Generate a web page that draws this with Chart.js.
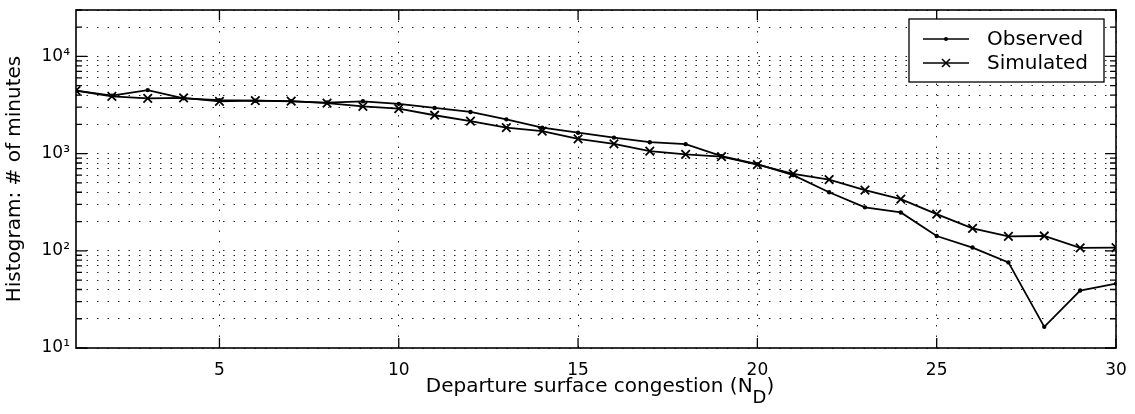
<!DOCTYPE html>
<html lang="en">
<head>
<meta charset="UTF-8">
<title>Departure surface congestion histogram</title>
<script src="https://cdn.jsdelivr.net/npm/chart.js"></script>
<style>
  body { margin: 0; background: #fff; }
  #wrap { width: 1135px; height: 414px; }
</style>
</head>
<body>
<div id="wrap"><canvas id="histChart" width="1135" height="414"></canvas></div>
<script>
  // values
  const congestion = [1, 2, 3, 4, 5, 6, 7, 8, 9, 10, 11, 12, 13, 14, 15, 16, 17, 18, 19, 20, 21, 22, 23, 24, 25, 26, 27, 28, 29, 30];
  const observed = [4450, 3950, 4500, 3700, 3550, 3500, 3450, 3350, 3450, 3250, 2950, 2680, 2250, 1850, 1640, 1460, 1310, 1250, 940, 780, 600, 400, 280, 248, 142, 108, 76, 16.5, 39, 46];
  const simulated = [4450, 3880, 3700, 3750, 3450, 3500, 3470, 3310, 3060, 2900, 2480, 2160, 1850, 1700, 1420, 1260, 1060, 980, 930, 770, 620, 540, 420, 340, 238, 170, 141, 142, 107, 108];
  const seriesNames = ['Observed', 'Simulated'];
  const xTicks = [5, 10, 15, 20, 25, 30];
  const yDecades = [10, 100, 1000, 10000];
  const yMin = 10, yMax = 30000;
  const xTitle = ['Departure surface congestion (N', 'D', ')'];
  const yTitle = 'Histogram: # of minutes';

  const FONT = "'DejaVu Sans', Arial, sans-serif";
  const sup = { '1': '¹', '2': '²', '3': '³', '4': '⁴' };

  // every 1..9 x decade inside the range gets a dotted line
  const yGrid = [];
  yDecades.forEach(d => {
    for (let m = 1; m <= 9; m++) {
      if (m * d <= yMax) yGrid.push(m * d);
    }
  });
  const isDecade = v => yDecades.includes(v);

  const framePlugin = {
    id: 'frame',
    afterDraw(chart) {
      const { ctx, chartArea: a, scales } = chart;
      ctx.save();
      ctx.strokeStyle = '#000';
      ctx.lineWidth = 1.6;
      ctx.strokeRect(a.left, a.top, a.right - a.left, a.bottom - a.top);

      // inward ticks, matlab style
      ctx.lineWidth = 1.3;
      ctx.beginPath();
      xTicks.forEach(v => {
        const px = scales.x.getPixelForValue(v);
        ctx.moveTo(px, a.bottom); ctx.lineTo(px, a.bottom - 10);
        ctx.moveTo(px, a.top); ctx.lineTo(px, a.top + 10);
      });
      yGrid.forEach(v => {
        const py = scales.y.getPixelForValue(v);
        const len = isDecade(v) ? 11 : 6;
        ctx.moveTo(a.left, py); ctx.lineTo(a.left + len, py);
        ctx.moveTo(a.right, py); ctx.lineTo(a.right - len, py);
      });
      ctx.stroke();

      // x title with subscript
      ctx.fillStyle = '#000';
      ctx.textBaseline = 'alphabetic';
      ctx.font = '20px ' + FONT;
      const w0 = ctx.measureText(xTitle[0]).width;
      const w2 = ctx.measureText(xTitle[2]).width;
      ctx.font = '18px ' + FONT;
      const w1 = ctx.measureText(xTitle[1]).width;
      let tx = (a.left + a.right) / 2 + 4 - (w0 + w1 + w2) / 2;
      const ty = 392;
      ctx.font = '20px ' + FONT;
      ctx.fillText(xTitle[0], tx, ty);
      tx += w0;
      ctx.font = '18px ' + FONT;
      ctx.fillText(xTitle[1], tx, ty + 11);
      tx += w1;
      ctx.font = '20px ' + FONT;
      ctx.fillText(xTitle[2], tx, ty);

      // legend box
      const bx = 909, by = 19, bw = 195, bh = 63;
      ctx.fillStyle = '#fff';
      ctx.fillRect(bx, by, bw, bh);
      ctx.lineWidth = 1.3;
      ctx.strokeRect(bx, by, bw, bh);
      const rows = [39, 63];
      ctx.lineWidth = 1.6;
      rows.forEach((ry, i) => {
        ctx.beginPath();
        ctx.moveTo(923, ry); ctx.lineTo(969, ry);
        ctx.stroke();
        if (i === 0) {
          ctx.fillStyle = '#000';
          ctx.beginPath();
          ctx.arc(946, ry, 2, 0, Math.PI * 2);
          ctx.fill();
        } else {
          ctx.beginPath();
          ctx.moveTo(942, ry - 4); ctx.lineTo(950, ry + 4);
          ctx.moveTo(942, ry + 4); ctx.lineTo(950, ry - 4);
          ctx.stroke();
        }
        ctx.fillStyle = '#000';
        ctx.font = '20px ' + FONT;
        ctx.textBaseline = 'middle';
        ctx.fillText(seriesNames[i], 987, ry + 1);
      });
      ctx.restore();
    }
  };

  new Chart(document.getElementById('histChart').getContext('2d'), {
    type: 'line',
    data: {
      datasets: [{
        label: seriesNames[0],
        data: congestion.map((x, i) => ({ x: x, y: observed[i] })),
        borderColor: '#000',
        borderWidth: 1.8,
        pointStyle: 'circle',
        pointRadius: 2.2,
        pointBackgroundColor: '#000',
        pointBorderWidth: 0,
        tension: 0
      }, {
        label: seriesNames[1],
        data: congestion.map((x, i) => ({ x: x, y: simulated[i] })),
        borderColor: '#000',
        borderWidth: 1.8,
        pointStyle: 'crossRot',
        pointRadius: 6,
        pointBorderColor: '#000',
        pointBorderWidth: 1.8,
        tension: 0
      }]
    },
    options: {
      responsive: false,
      animation: false,
      layout: { padding: { top: 10, right: 19, left: 0, bottom: 0 } },
      plugins: {
        legend: { display: false },
        tooltip: { enabled: false }
      },
      scales: {
        x: {
          type: 'linear',
          min: 1,
          max: 30,
          afterBuildTicks: s => { s.ticks = xTicks.map(v => ({ value: v })); },
          afterFit: s => { s.height = 66; s.paddingLeft = 0; s.paddingRight = 0; },
          grid: { color: 'rgba(0,0,0,0.85)', lineWidth: 1, drawTicks: false },
          border: { display: false, dash: [1.5, 9] },
          ticks: { padding: 12, color: '#000', maxRotation: 0, autoSkip: false, font: { family: FONT, size: 17 } }
        },
        y: {
          type: 'logarithmic',
          min: yMin,
          max: yMax,
          afterBuildTicks: s => { s.ticks = yGrid.map(v => ({ value: v, major: isDecade(v) })); },
          afterFit: s => { s.width = 76; s.paddingTop = 0; s.paddingBottom = 0; },
          grid: { color: 'rgba(0,0,0,0.85)', lineWidth: 1, drawTicks: false },
          border: { display: false, dash: [1.5, 9] },
          ticks: {
            padding: 6,
            color: '#000',
            autoSkip: false,
            font: { family: FONT, size: 17 },
            callback: v => isDecade(v) ? '10' + sup[String(Math.round(Math.log10(v)))] : ''
          },
          title: {
            display: true,
            text: yTitle,
            color: '#000',
            padding: { top: 3, bottom: 0 },
            font: { family: FONT, size: 20 }
          }
        }
      }
    },
    plugins: [framePlugin]
  });
</script>
</body>
</html>
